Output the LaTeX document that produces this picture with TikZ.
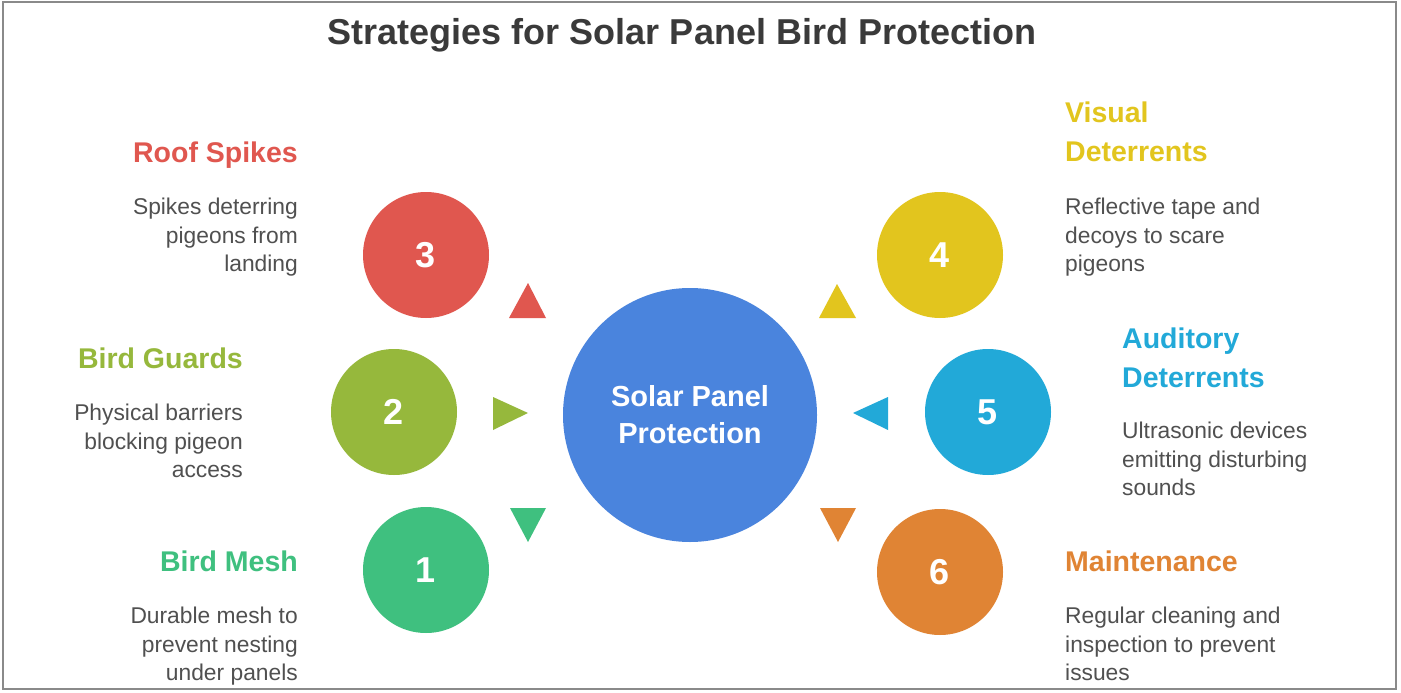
\documentclass[tikz,border=0pt]{standalone}
\usepackage{fontspec}
\setmainfont{Liberation Sans}
\usetikzlibrary{positioning}
\definecolor{hubblue}{HTML}{4A84DD}
\definecolor{spikered}{HTML}{E0574F}
\definecolor{guardolive}{HTML}{96B83C}
\definecolor{meshgreen}{HTML}{3FC07F}
\definecolor{visyellow}{HTML}{E2C51E}
\definecolor{audcyan}{HTML}{22A9D8}
\definecolor{maintorange}{HTML}{E08434}
\definecolor{titlegray}{HTML}{3A3A3A}
\definecolor{notegray}{HTML}{505050}
\definecolor{framegray}{HTML}{8A8A8A}

\begin{document}
\begin{tikzpicture}[x=1pt, y=-1pt, >=latex,
    head/.style={font=\bfseries\fontsize{28.5}{38.5}\selectfont, inner sep=0},
    note/.style={font=\fontsize{22.8}{28.5}\selectfont, text=notegray, inner sep=0},
    disc/.style={circle, inner sep=0, minimum size=126, text=white, font=\bfseries\fontsize{36}{36}\selectfont}]
\useasboundingbox (0,0) rectangle (1401,693);
\fill[white] (0,0) rectangle (1401,693);
\draw[framegray, line width=1.5] (3,2) rectangle (1396,689);

\node (title) at (682,45)[anchor=base, font=\bfseries\fontsize{36}{36}\selectfont, text=titlegray]{Strategies for Solar Panel Bird Protection};

\node (hub) at (690,415)[circle, fill=hubblue, minimum size=254, inner sep=0, align=center, text=white, font=\bfseries\fontsize{29}{37}\selectfont]{Solar Panel\\Protection};

\foreach \n/\x/\y/\c in {1/426/570/meshgreen, 2/394/412/guardolive, 3/426/255/spikered, 4/940/255/visyellow, 5/988/412/audcyan, 6/940/572/maintorange}
{
    \node (c\n) at (\x,\y)[disc, fill=\c]{\n};
}

\fill[spikered] (528,283) -- (509,318) -- (546,318) -- cycle;
\fill[guardolive] (493,397) -- (528,413) -- (493,430) -- cycle;
\fill[meshgreen] (510,508) -- (546,508) -- (528,542) -- cycle;
\fill[visyellow] (837,284) -- (819,318) -- (856,318) -- cycle;
\fill[audcyan] (853,413) -- (888,397) -- (888,430) -- cycle;
\fill[maintorange] (820,508) -- (856,508) -- (838,542) -- cycle;

\node (h3) at (298,162)[anchor=base east, head, text=spikered]{Roof Spikes};
\node (n3) at (298,198)[anchor=north east, note, align=right]{Spikes deterring\\pigeons from\\landing};
\node (h2) at (243,368)[anchor=base east, head, text=guardolive]{Bird Guards};
\node (n2) at (243,404)[anchor=north east, note, align=right]{Physical barriers\\blocking pigeon\\access};
\node (h1) at (298,571)[anchor=base east, head, text=meshgreen]{Bird Mesh};
\node (n1) at (298,607)[anchor=north east, note, align=right]{Durable mesh to\\prevent nesting\\under panels};

\node (h4) at (1065,161)[anchor=base west, head, align=left, text=visyellow]{Visual\\Deterrents};
\node (n4) at (1065,198)[anchor=north west, note, align=left]{Reflective tape and\\decoys to scare\\pigeons};
\node (h5) at (1122,387)[anchor=base west, head, align=left, text=audcyan]{Auditory\\Deterrents};
\node (n5) at (1122,422)[anchor=north west, note, align=left]{Ultrasonic devices\\emitting disturbing\\sounds};
\node (h6) at (1065,571)[anchor=base west, head, text=maintorange]{Maintenance};
\node (n6) at (1065,607)[anchor=north west, note, align=left]{Regular cleaning and\\inspection to prevent\\issues};
\end{tikzpicture}
\end{document}
